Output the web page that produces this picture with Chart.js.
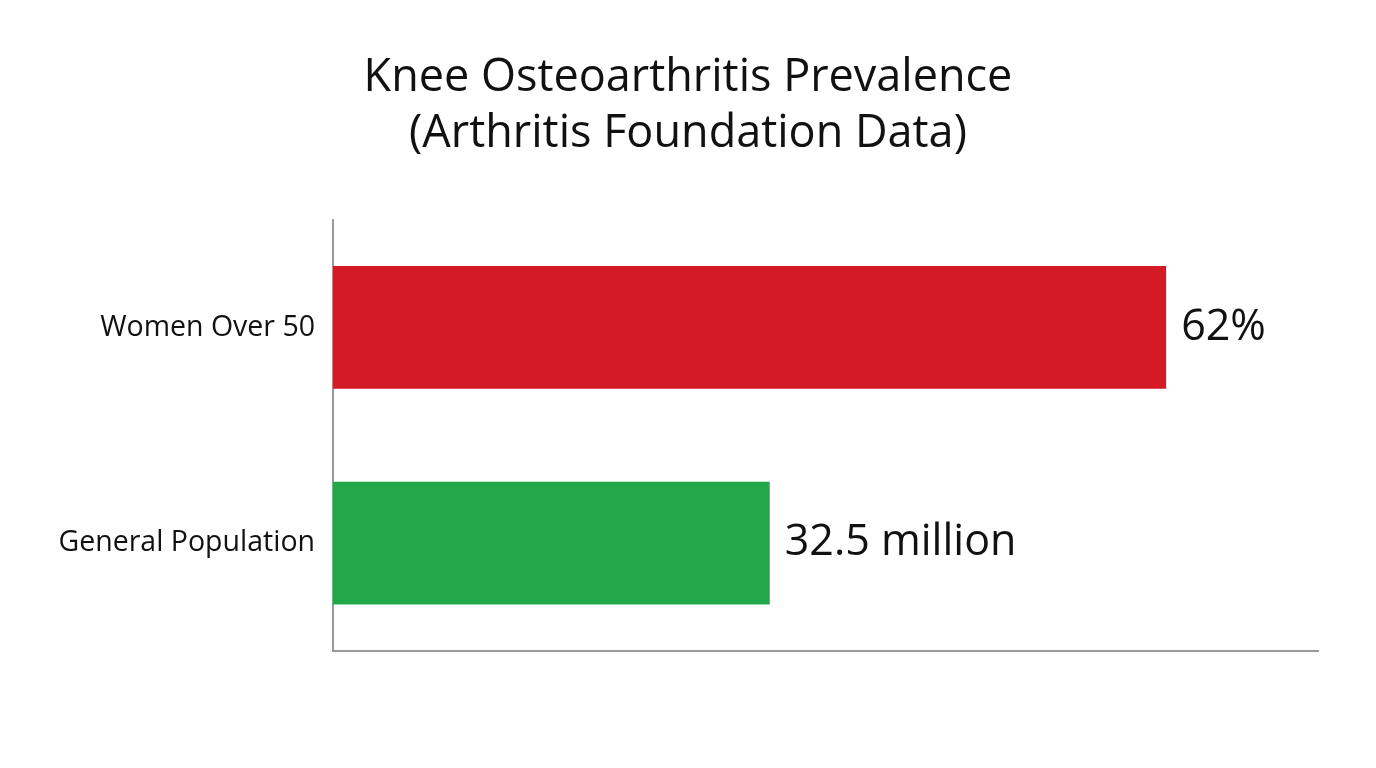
<!DOCTYPE html>
<html>
<head>
<meta charset="utf-8">
<script src="https://cdn.jsdelivr.net/npm/chart.js@4"></script>
<style>
html,body{margin:0;padding:0;background:#fff;}
#wrap{width:1376px;height:768px;}
</style>
</head>
<body>
<div id="wrap"><canvas id="c" width="1376" height="768"></canvas></div>
<script>
const categories = ["Women Over 50", "General Population"];
const values = [62, 32.5];
const valueLabels = ["62%", "32.5 million"];
const barColors = ["#D41A24", "#22A84A"];
const titleLines = ["Knee Osteoarthritis Prevalence", "(Arthritis Foundation Data)"];

const FONT = "'Open Sans', 'Noto Sans', sans-serif";

const valueLabelPlugin = {
  id: 'valueLabels',
  afterDatasetsDraw(chart) {
    const ctx = chart.ctx;
    const meta = chart.getDatasetMeta(0);
    ctx.save();
    ctx.font = "43px " + FONT;
    ctx.fillStyle = "#111";
    ctx.textAlign = "left";
    ctx.textBaseline = "middle";
    meta.data.forEach((bar, i) => {
      ctx.fillText(valueLabels[i], bar.x + 15, bar.y);
    });
    ctx.restore();
  }
};

new Chart(document.getElementById('c'), {
  type: 'bar',
  data: {
    labels: categories,
    datasets: [{
      data: values,
      backgroundColor: barColors,
      borderWidth: 0,
      barPercentage: 1,
      categoryPercentage: 0.57
    }]
  },
  options: {
    indexAxis: 'y',
    responsive: false,
    animation: false,
    layout: { padding: { top: 0, right: 58, bottom: 0, left: 58 } },
    plugins: {
      legend: { display: false },
      tooltip: { enabled: false },
      title: {
        display: true,
        text: titleLines,
        color: "#111",
        font: { family: FONT, size: 45, weight: 'normal', lineHeight: 1.25 },
        padding: { top: 50, bottom: 57 }
      }
    },
    scales: {
      y: {
        grid: { display: false, drawTicks: false },
        border: { display: true, color: "#9a9a9a", width: 2 },
        ticks: { color: "#111", font: { family: FONT, size: 28.5 }, padding: 18 },
        afterFit(scale) { scale.width = 275; }
      },
      x: {
        min: 0,
        max: 73.3,
        grid: { display: false, drawTicks: false },
        border: { display: true, color: "#9a9a9a", width: 2 },
        ticks: { display: false },
        afterFit(scale) { scale.height = 117; }
      }
    }
  },
  plugins: [valueLabelPlugin]
});
</script>
</body>
</html>
